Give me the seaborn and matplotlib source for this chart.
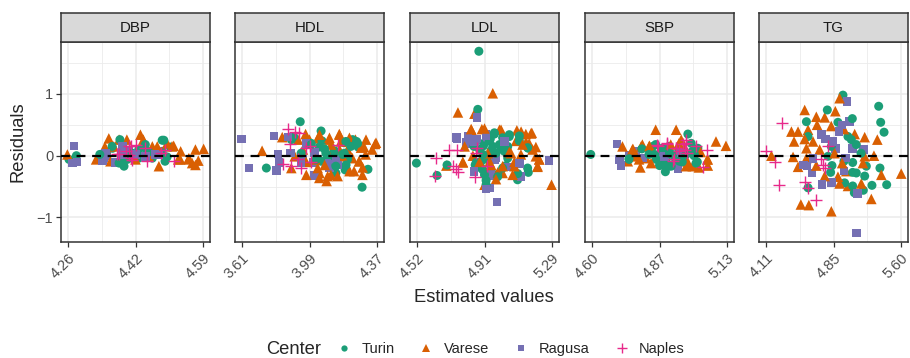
import matplotlib
matplotlib.use('Agg')
import matplotlib.pyplot as plt
from matplotlib.lines import Line2D
import seaborn as sns
import pandas as pd

sns.set_theme(style='white')
plt.rcParams['font.family'] = ['Liberation Sans', 'DejaVu Sans']

# %% data
facets = ['DBP', 'HDL', 'LDL', 'SBP', 'TG']
centers = ['Turin', 'Varese', 'Ragusa', 'Naples']

tick_values = {
    'DBP': [4.26, 4.425, 4.59],
    'HDL': [3.61, 3.99, 4.37],
    'LDL': [4.52, 4.905, 5.29],
    'SBP': [4.60, 4.865, 5.13],
    'TG': [4.11, 4.855, 5.60],
}
tick_labels = {
    'DBP': ['4.26', '4.42', '4.59'],
    'HDL': ['3.61', '3.99', '4.37'],
    'LDL': ['4.52', '4.91', '5.29'],
    'SBP': ['4.60', '4.87', '5.13'],
    'TG': ['4.11', '4.85', '5.60'],
}

# DBP
dbp_turin_x = [4.263, 4.281, 4.338, 4.387, 4.369, 4.393, 4.385, 4.397, 4.405, 4.433, 4.441, 4.453, 4.466, 4.490, 4.497, 4.510, 4.490, 4.417,
               4.368, 4.393, 4.389, 4.449, 4.494, 4.502, 4.457, 4.433]
dbp_turin_y = [-0.06, 0.00, 0.02, 0.26, 0.12, 0.10, -0.12, -0.17, -0.06, 0.10, -0.01, 0.07, -0.04, 0.25, -0.09, 0.14, 0.07, 0.04,
               0.15, 0.12, -0.09, 0.18, 0.25, -0.02, 0.06, -0.04]
dbp_varese_x = [4.259, 4.360, 4.350, 4.329, 4.364, 4.385, 4.404, 4.437, 4.444, 4.466, 4.482, 4.478, 4.502, 4.518, 4.535, 4.529, 4.555, 4.563, 4.571, 4.571, 4.591, 4.425, 4.457,
                4.352, 4.372, 4.514, 4.534, 4.554, 4.578, 4.340]
dbp_varese_y = [0.02, 0.28, 0.14, -0.06, -0.09, 0.26, 0.26, 0.34, 0.26, 0.15, -0.17, 0.15, 0.20, 0.16, 0.07, -0.06, -0.04, -0.12, -0.15, 0.10, 0.11, -0.06, -0.01,
                0.12, 0.15, 0.15, -0.06, -0.06, -0.08, -0.04]
dbp_ragusa_x = [4.275, 4.271, 4.283, 4.352, 4.348, 4.376, 4.393, 4.425, 4.449, 4.473, 4.344, 4.356, 4.393, 4.409, 4.482]
dbp_ragusa_y = [0.16, -0.12, -0.10, 0.04, -0.04, -0.11, 0.02, 0.02, -0.01, 0.02, -0.08, 0.00, 0.16, 0.07, 0.01]
dbp_naples_x = [4.385, 4.401, 4.413, 4.425, 4.413, 4.453, 4.449, 4.486, 4.498, 4.518, 4.409, 4.409, 4.417, 4.381]
dbp_naples_y = [0.02, 0.07, 0.15, 0.18, -0.04, -0.09, 0.12, 0.04, 0.10, -0.08, 0.16, 0.01, -0.07, 0.02]

# HDL
hdl_turin_x = [3.748, 3.938, 3.901, 3.888, 3.943, 3.999, 4.055, 4.060, 4.045, 4.082, 4.027, 4.055, 4.101, 4.129, 4.138, 4.194, 4.185, 4.203, 4.190, 4.222, 4.254, 4.263, 4.318, 4.285, 4.138,
               3.999, 4.074, 4.130, 4.185, 4.232, 4.260, 4.120, 4.176, 4.204, 4.083, 4.139, 4.195]
hdl_turin_y = [-0.20, 0.55, 0.31, 0.26, 0.04, 0.18, 0.40, 0.24, 0.14, 0.04, -0.06, -0.09, -0.06, -0.01, -0.17, 0.23, 0.04, -0.06, -0.23, 0.15, 0.23, 0.14, -0.22, -0.51, -0.28,
               0.20, 0.11, 0.08, 0.21, 0.26, 0.20, -0.02, 0.02, -0.04, -0.07, -0.15, -0.15]
hdl_varese_x = [3.724, 3.837, 3.968, 3.926, 3.907, 3.888, 3.972, 4.037, 4.045, 4.086, 4.101, 4.120, 4.157, 4.148, 4.166, 4.110, 4.175, 4.231, 4.240, 4.248, 4.268, 4.287, 4.296, 4.305, 4.342, 4.358, 4.022, 4.075, 4.203, 3.953,
                3.990, 4.046, 4.102, 4.158, 4.214, 4.307, 4.363, 4.111, 4.158, 4.279, 4.269, 4.288, 3.971, 4.036, 4.046, 4.092, 4.195, 4.214]
hdl_varese_y = [0.08, 0.30, 0.35, 0.26, -0.01, -0.20, -0.31, 0.28, -0.36, -0.41, 0.26, 0.10, 0.35, -0.33, 0.23, -0.31, -0.01, -0.04, -0.25, 0.26, -0.09, -0.31, 0.14, 0.02, 0.10, 0.19, -0.06, -0.15, 0.10, 0.10,
                0.26, 0.34, 0.29, 0.34, 0.29, 0.26, 0.21, 0.18, 0.10, 0.13, -0.09, -0.19, -0.10, -0.20, -0.28, -0.33, -0.14, -0.25]
hdl_ragusa_x = [3.610, 3.651, 3.791, 3.813, 3.819, 3.804, 3.869, 3.882, 3.984, 4.017, 4.017, 4.101, 4.148, 3.943, 3.971, 3.953, 4.009, 4.102, 4.139]
hdl_ragusa_y = [0.27, -0.20, 0.32, 0.03, -0.11, -0.24, 0.30, 0.04, 0.19, 0.05, -0.32, -0.20, -0.15, -0.12, 0.20, -0.06, -0.11, -0.13, -0.08]
hdl_naples_x = [3.869, 3.907, 3.931, 3.878, 3.972, 3.990, 3.841, 3.888, 3.943, 3.999, 4.148, 3.924]
hdl_naples_y = [0.43, 0.38, 0.37, 0.19, 0.12, 0.16, -0.13, -0.17, -0.20, -0.11, 0.18, -0.06]

# LDL
ldl_turin_x = [4.873, 4.867, 4.518, 4.635, 4.692, 4.845, 4.852, 4.886, 4.899, 4.914, 4.905, 4.920, 4.938, 4.961, 4.980, 4.970, 4.999, 5.008, 5.027, 5.018, 5.046, 5.037, 5.093, 5.103, 5.103, 5.154, 5.154, 4.952, 4.886,
               4.961, 5.008, 5.046, 4.905, 4.933, 4.990, 4.942, 4.999, 5.037, 4.877, 4.896, 5.150, 5.150, 5.094, 4.896, 4.858, 4.980, 4.914]
ldl_turin_y = [1.69, 0.75, -0.12, -0.32, -0.15, 0.15, -0.15, -0.09, 0.16, -0.47, -0.31, -0.06, 0.27, 0.35, -0.34, 0.04, 0.15, -0.20, -0.16, 0.07, 0.31, -0.04, -0.39, 0.32, 0.24, -0.27, 0.12, 0.15, -0.20,
               0.37, 0.29, 0.34, 0.21, 0.24, 0.18, 0.08, 0.11, 0.15, 0.10, 0.02, 0.13, -0.20, -0.29, -0.23, -0.11, -0.30, -0.40]
ldl_varese_x = [4.952, 4.754, 4.848, 4.829, 4.890, 4.999, 5.089, 5.140, 5.174, 4.782, 4.688, 4.792, 4.839, 4.905, 4.970, 4.980, 5.008, 5.065, 5.075, 5.112, 5.121, 5.159, 5.178, 5.197, 5.206, 5.216, 5.286, 4.924, 5.056, 4.943,
                4.830, 4.905, 4.990, 5.113, 5.169, 5.084, 5.141, 5.197, 5.216, 5.207, 5.075, 5.046, 5.008, 4.933, 4.877, 4.782]
ldl_varese_y = [1.01, 0.70, 0.68, 0.43, 0.43, 0.42, 0.41, 0.35, 0.37, -0.11, -0.16, 0.15, 0.00, -0.47, -0.38, -0.27, -0.28, -0.31, -0.17, 0.02, 0.18, 0.20, 0.10, -0.01, -0.18, -0.06, -0.47, 0.04, 0.04, -0.15,
                0.42, 0.44, 0.42, 0.39, 0.36, 0.24, 0.22, 0.14, -0.06, -0.17, -0.10, 0.06, -0.17, -0.10, -0.10, -0.10]
ldl_ragusa_x = [4.863, 4.748, 4.810, 4.801, 4.848, 4.914, 4.920, 4.965, 4.942, 4.914, 4.933, 4.976, 4.845, 5.018, 5.103, 5.112, 5.272,
                4.745, 4.801, 4.858, 4.914, 4.970, 5.103, 4.942, 5.037]
ldl_ragusa_y = [0.62, 0.28, 0.31, 0.19, 0.22, 0.34, 0.26, -0.06, -0.32, -0.54, -0.52, -0.75, -0.26, 0.23, -0.13, -0.34, -0.08,
                0.29, 0.21, 0.26, 0.32, -0.04, -0.12, -0.28, -0.18]
ldl_naples_x = [4.628, 4.622, 4.703, 4.748, 4.725, 4.744, 4.754, 4.857, 4.863, 4.852, 4.920]
ldl_naples_y = [-0.03, -0.33, 0.10, 0.10, -0.16, -0.22, -0.27, 0.05, 0.12, -0.35, -0.17]

# SBP
sbp_turin_x = [4.596, 4.796, 4.746, 4.839, 4.846, 4.865, 4.888, 4.904, 4.911, 4.924, 4.943, 4.956, 4.976, 4.989, 5.008, 5.015, 4.969, 4.852, 4.878, 4.891, 5.002,
               4.850, 4.876, 4.902, 4.824, 4.863, 4.915, 4.941, 4.993, 5.000, 5.013, 4.746, 4.876, 4.902, 4.954, 4.928]
sbp_turin_y = [0.02, 0.11, -0.05, 0.15, 0.02, -0.16, -0.26, 0.04, -0.17, -0.01, -0.09, 0.04, 0.35, 0.20, -0.12, 0.12, 0.02, -0.06, 0.10, -0.06, 0.02,
               0.18, 0.12, 0.15, 0.02, 0.00, 0.02, 0.07, 0.07, 0.00, -0.10, -0.06, -0.14, -0.17, -0.10, -0.06]
sbp_varese_x = [4.850, 4.930, 5.086, 5.125, 4.790, 4.761, 4.741, 4.793, 4.826, 4.832, 4.950, 4.969, 4.995, 5.054, 5.054, 4.813, 4.904, 4.767,
                4.720, 4.759, 4.798, 4.824, 4.837, 4.909, 4.941, 4.960, 4.974, 4.974, 5.006, 5.019, 5.052, 5.026, 4.772, 4.785]
sbp_varese_y = [0.42, 0.42, 0.23, 0.16, -0.19, 0.11, -0.09, 0.15, 0.16, -0.12, 0.26, -0.17, -0.17, -0.06, -0.16, -0.04, 0.12, 0.02,
                0.15, 0.10, 0.18, 0.15, 0.07, 0.18, 0.20, 0.12, -0.09, -0.14, -0.09, -0.19, -0.06, 0.06, -0.01, -0.06]
sbp_ragusa_x = [4.699, 4.709, 4.715, 4.748, 4.800, 4.885, 4.937, 4.950, 4.772, 4.876, 4.954]
sbp_ragusa_y = [0.19, -0.06, -0.16, 0.00, -0.04, -0.01, -0.21, 0.04, 0.07, 0.00, 0.00]
sbp_naples_x = [4.859, 4.894, 4.930, 4.956, 4.969, 4.963, 5.008, 5.051, 5.034, 4.917, 4.943, 4.857, 4.896, 4.928, 4.967, 4.922, 4.974]
sbp_naples_y = [0.15, 0.19, 0.12, 0.19, 0.25, 0.10, 0.15, 0.10, -0.18, -0.08, 0.07, 0.18, 0.21, 0.13, 0.21, -0.06, 0.05]

# TG
tg_turin_x = [4.959, 4.787, 4.557, 4.575, 4.904, 5.062, 5.014, 5.051, 5.106, 5.352, 5.374, 5.411, 4.831, 4.795, 4.838, 4.823, 4.970, 5.066, 5.066, 5.106, 5.158, 5.216, 5.198, 5.066, 5.084, 5.183, 5.278, 5.366, 5.440, 4.575, 4.977]
tg_turin_y = [0.98, 0.74, 0.55, 0.31, 0.54, 0.60, 0.31, 0.26, 0.18, 0.80, 0.54, 0.38, 0.15, -0.01, -0.16, -0.27, -0.09, -0.11, -0.27, -0.28, 0.04, -0.17, -0.33, -0.49, -0.60, -0.56, -0.48, -0.20, -0.47, -0.52, -0.44]
tg_varese_x = [4.922, 4.538, 4.666, 4.758, 4.875, 4.392, 4.465, 4.421, 4.575, 4.674, 4.830, 4.970, 5.088, 5.198, 5.337, 4.538, 4.557, 4.630, 4.703, 4.172, 4.410, 4.465, 4.557, 4.666, 4.758, 4.904, 4.922, 4.995, 5.014, 5.161, 5.179, 5.271, 5.300, 5.381, 5.600, 4.496, 4.584, 4.831, 4.950, 4.867, 5.198]
tg_varese_y = [0.93, 0.74, 0.63, 0.62, 0.72, 0.39, 0.39, 0.23, 0.42, 0.50, 0.48, 0.43, 0.35, 0.30, 0.26, 0.27, 0.12, 0.23, 0.10, 0.00, -0.02, -0.18, -0.04, -0.16, -0.33, -0.34, -0.45, -0.25, -0.49, -0.45, -0.12, -0.70, 0.00, -0.31, -0.29, -0.79, -0.80, -0.90, -0.12, 0.04, -0.01]
tg_ragusa_x = [5.003, 4.948, 5.033, 4.916, 4.721, 4.765, 4.849, 4.879, 4.630, 4.528, 4.565, 4.620, 4.730, 4.831, 4.970, 4.988, 5.062, 5.183, 5.117, 5.106]
tg_ragusa_y = [0.88, 0.50, 0.55, 0.39, 0.34, 0.27, 0.23, 0.12, -0.05, -0.15, -0.17, -0.28, -0.47, -0.43, -0.25, -0.04, 0.12, 0.10, -0.61, -1.25]
tg_naples_x = [4.283, 4.107, 4.217, 4.257, 4.538, 4.575, 4.666, 4.721, 4.740, 4.758, 4.795]
tg_naples_y = [0.53, 0.07, -0.11, -0.47, -0.43, -0.52, -0.71, -0.05, -0.15, -0.20, 0.16]

series = {
    ('DBP', 'Turin'): (dbp_turin_x, dbp_turin_y), ('DBP', 'Varese'): (dbp_varese_x, dbp_varese_y),
    ('DBP', 'Ragusa'): (dbp_ragusa_x, dbp_ragusa_y), ('DBP', 'Naples'): (dbp_naples_x, dbp_naples_y),
    ('HDL', 'Turin'): (hdl_turin_x, hdl_turin_y), ('HDL', 'Varese'): (hdl_varese_x, hdl_varese_y),
    ('HDL', 'Ragusa'): (hdl_ragusa_x, hdl_ragusa_y), ('HDL', 'Naples'): (hdl_naples_x, hdl_naples_y),
    ('LDL', 'Turin'): (ldl_turin_x, ldl_turin_y), ('LDL', 'Varese'): (ldl_varese_x, ldl_varese_y),
    ('LDL', 'Ragusa'): (ldl_ragusa_x, ldl_ragusa_y), ('LDL', 'Naples'): (ldl_naples_x, ldl_naples_y),
    ('SBP', 'Turin'): (sbp_turin_x, sbp_turin_y), ('SBP', 'Varese'): (sbp_varese_x, sbp_varese_y),
    ('SBP', 'Ragusa'): (sbp_ragusa_x, sbp_ragusa_y), ('SBP', 'Naples'): (sbp_naples_x, sbp_naples_y),
    ('TG', 'Turin'): (tg_turin_x, tg_turin_y), ('TG', 'Varese'): (tg_varese_x, tg_varese_y),
    ('TG', 'Ragusa'): (tg_ragusa_x, tg_ragusa_y), ('TG', 'Naples'): (tg_naples_x, tg_naples_y),
}

rows = []
for (facet, center), (xs, ys) in series.items():
    for x, y in zip(xs, ys):
        rows.append({'Parameter': facet, 'Center': center, 'Estimated': x, 'Residual': y})
df = pd.DataFrame(rows)

palette = {'Turin': '#1B9E77', 'Varese': '#D95F02', 'Ragusa': '#7570B3', 'Naples': '#E7298A'}
marker_map = {'Turin': 'o', 'Varese': '^', 'Ragusa': 's'}
size_map = {'Turin': 42, 'Varese': 58, 'Ragusa': 38}
draw_order = ['Varese', 'Turin', 'Ragusa']

# %% layout (pixels of a 910x358 figure)
W, H = 910, 358
fig = plt.figure(figsize=(W / 100, H / 100), dpi=100)
panel_left = [61, 235, 410, 585, 759]
panel_w = 149
top, bottom = 42, 242
strip_top = 13
dark = '#333333'

for i, facet in enumerate(facets):
    ax = fig.add_axes([panel_left[i] / W, 1 - bottom / H, panel_w / W, (bottom - top) / H])
    sub = df[df['Parameter'] == facet]
    filled = pd.concat([sub[sub['Center'] == c] for c in draw_order])
    # interleave the centres a little so no colour always sits on top
    filled = filled.sort_values('Residual', key=lambda s: (s * 1000).round() % 7, kind='stable')
    sns.scatterplot(data=filled, x='Estimated', y='Residual', hue='Center', style='Center', size='Center',
                    palette=palette, markers=marker_map, sizes=size_map, linewidth=0, legend=False,
                    ax=ax, zorder=3)
    nap = sub[sub['Center'] == 'Naples']
    sns.scatterplot(data=nap, x='Estimated', y='Residual', color=palette['Naples'], marker='+',
                    s=66, linewidth=1.0, legend=False, ax=ax, zorder=4)
    ax.axhline(0, color='black', linestyle=(0, (4, 3)), linewidth=1.6, zorder=5)

    tv = tick_values[facet]
    pad = (tv[2] - tv[0]) * 0.05
    ax.set_xlim(tv[0] - pad, tv[2] + pad)
    ax.set_ylim(-1.397, 1.84)
    ax.set_xticks(tv)
    ax.set_xticklabels(tick_labels[facet], rotation=45, ha='right', va='top',
                       rotation_mode='anchor', color='#4D4D4D', fontsize=10.5)
    ax.set_xticks([(tv[0] + tv[1]) / 2, (tv[1] + tv[2]) / 2], minor=True)
    ax.set_yticks([-1, 0, 1])
    ax.set_yticks([-0.5, 0.5, 1.5], minor=True)
    ax.grid(which='major', color='#EBEBEB', linewidth=1.1, zorder=0)
    ax.grid(which='minor', color='#EBEBEB', linewidth=0.6, zorder=0)
    ax.set_axisbelow(True)
    ax.tick_params(axis='x', which='major', length=3.5, width=0.9, color=dark, pad=3, bottom=True)
    ax.tick_params(axis='both', which='minor', length=0)
    if i == 0:
        ax.set_yticklabels(['\u22121', '0', '1'], color='#4D4D4D', fontsize=10.5)
        ax.tick_params(axis='y', which='major', length=3.5, width=0.9, color=dark, pad=2, left=True)
    else:
        ax.set_yticklabels([])
        ax.tick_params(axis='y', which='major', length=0)
    ax.set_xlabel('')
    ax.set_ylabel('')
    for sp in ax.spines.values():
        sp.set_color(dark)
        sp.set_linewidth(1.1)

    # facet strip
    sax = fig.add_axes([panel_left[i] / W, 1 - top / H, panel_w / W, (top - strip_top) / H])
    sax.set_facecolor('#D9D9D9')
    sax.set_xticks([])
    sax.set_yticks([])
    for sp in sax.spines.values():
        sp.set_color(dark)
        sp.set_linewidth(1.1)
    sax.text(0.5, 0.5, facet, ha='center', va='center', fontsize=10.8, color='#1A1A1A',
             transform=sax.transAxes)

fig.text(18 / W, 1 - 142 / H, 'Residuals', rotation=90, ha='center', va='center', fontsize=13.2)
fig.text(484 / W, 1 - 297 / H, 'Estimated values', ha='center', va='center', fontsize=13.2)

# legend along the bottom
fig.text(266 / W, 1 - 349 / H, 'Center', ha='left', va='center', fontsize=13.2)
handles = [
    Line2D([], [], linestyle='', marker='o', color=palette['Turin'], markersize=4.5, markeredgewidth=0),
    Line2D([], [], linestyle='', marker='^', color=palette['Varese'], markersize=5.5, markeredgewidth=0),
    Line2D([], [], linestyle='', marker='s', color=palette['Ragusa'], markersize=4.5, markeredgewidth=0),
    Line2D([], [], linestyle='', marker='+', color=palette['Naples'], markersize=7, markeredgewidth=1.0),
]
fig.legend(handles, centers, loc='center left', bbox_to_anchor=(335 / W, 1 - 349 / H), ncol=4,
           frameon=False, fontsize=10.5, handlelength=1.2, handletextpad=0.6, columnspacing=1.6,
           borderaxespad=0, borderpad=0)

fig.savefig('out.png', dpi=100)
